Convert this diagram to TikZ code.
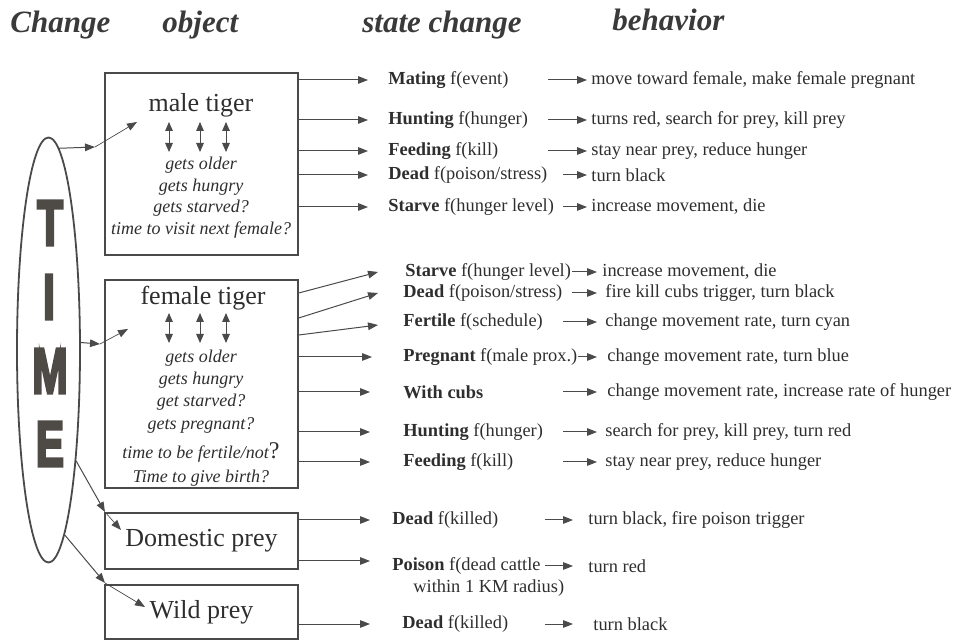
\documentclass[tikz,border=0pt]{standalone}
\usepackage{fontspec}
\IfFontExistsTF{LiberationSerif-Regular.ttf}{%
  \setmainfont{LiberationSerif-Regular.ttf}[
    BoldFont=LiberationSerif-Bold.ttf,
    ItalicFont=LiberationSerif-Italic.ttf,
    BoldItalicFont=LiberationSerif-BoldItalic.ttf]}{%
  \setmainfont{Liberation Serif}}
\newfontfamily\timefont{Liberation Sans}[FakeBold=5]
\usepackage{tikz}
\usetikzlibrary{shapes.geometric, arrows.meta, positioning}
\definecolor{inkgray}{HTML}{2E2E2E}
\definecolor{headgray}{HTML}{3A3A3A}
\definecolor{linegray}{HTML}{4A4A4A}
\definecolor{lettergray}{HTML}{4E4A45}

\tikzset{
  objbox/.style={draw=linegray, line width=0.7pt, inner sep=0pt},
  arr/.style={draw=linegray, line width=0.5pt, -{Triangle[length=5pt, width=3.8pt]}},
  thinarr/.style={arr, line width=0.35pt},
  dblarr/.style={draw=linegray, line width=0.5pt, {Triangle[length=4.5pt, width=3.8pt]}-{Triangle[length=4.5pt, width=3.8pt]}},
  head/.style={anchor=base west, inner sep=0pt, text=headgray, font=\rmfamily\fontsize{15.5}{18}\selectfont\bfseries\itshape},
  lbl/.style={anchor=west, inner sep=0pt, text=inkgray, font=\rmfamily\fontsize{9.2}{11}\selectfont},
  cond/.style={inner sep=0pt, text=inkgray, font=\rmfamily\fontsize{9}{11}\selectfont\itshape},
  objname/.style={inner sep=0pt, text=inkgray, font=\rmfamily\fontsize{13}{15}\selectfont},
  bigletter/.style={inner sep=0pt, text=lettergray, font=\timefont\bfseries\fontsize{32}{32}\selectfont}
}

\begin{document}
\begin{tikzpicture}[x=0.5pt, y=-0.5pt]
        \useasboundingbox (0,0) rectangle (958,640);

        % Column headings
        \node[head] (hchange) at (10,33) {Change};
        \node[head] (hobject) at (162,33) {object};
        \node[head] (hstate) at (362,33) {state change};
        \node[head] (hbehav) at (612,31) {behavior};

        % TIME ellipse
        \node[draw=linegray, line width=0.9pt, ellipse, inner sep=0pt,
              minimum width=31.5pt, minimum height=212.5pt] (time) at (48.5,350) {};
        \node[bigletter] (letT) at (50,223) {\scalebox{0.66}[1]{T}};
        \node[bigletter] (letI) at (49,297) {\scalebox{0.66}[1]{I}};
        \node[bigletter] (letM) at (50,371) {\scalebox{0.66}[1]{M}};
        \node[bigletter] (letE) at (50,444) {\scalebox{0.66}[1]{E}};

        % Object boxes
        \node[objbox, minimum width=96.5pt, minimum height=91pt] (male) at (201.5,164) {};
        \node[objbox, minimum width=96.5pt, minimum height=104pt] (fem) at (201.5,384) {};
        \node[objbox, objname, minimum width=96.5pt, minimum height=28pt] (dom) at (201.5,541) {Domestic prey};
        \node[objbox, objname, minimum width=96.5pt, minimum height=27pt] (wild) at (201.5,612) {Wild prey};

        % male tiger contents
        \node[objname] (mname) at (201,105) {male tiger};
        \draw[dblarr] (169,122) -- (169,152);
        \draw[dblarr] (200,122) -- (200,152);
        \draw[dblarr] (226,122) -- (226,152);
        \node[cond] (mc1) at (201,165) {gets older};
        \node[cond] (mc2) at (201,187) {gets hungry};
        \node[cond] (mc3) at (201,208) {gets starved?};
        \node[cond] (mc4) at (201,230) {time to visit next female?};

        % female tiger contents
        \node[objname] (fname) at (203,298) {female tiger};
        \draw[dblarr] (169,313) -- (169,343);
        \draw[dblarr] (200,313) -- (200,343);
        \draw[dblarr] (226,313) -- (226,343);
        \node[cond] (fc1) at (201,358) {gets older};
        \node[cond] (fc2) at (201,380) {gets hungry};
        \node[cond] (fc3) at (201,402) {get starved?};
        \node[cond] (fc4) at (201,425) {gets pregnant?};
        \node[cond] (fc5) at (201,452) {time to be fertile/not{\upshape\fontsize{12}{12}\selectfont ?}};
        \node[cond] (fc6) at (201,478) {Time to give birth?};

        % Arrows from TIME to the objects
        \coordinate (mtip) at (95,147);
        \coordinate (min) at (137,122);
        \draw[arr] (time.87) -- (mtip);
        \draw[thinarr] (mtip) -- (min);
        \coordinate (ftip) at (100,344);
        \coordinate (fin) at (128,329);
        \draw[arr] (time.13) -- (ftip);
        \draw[thinarr] (ftip) -- (fin);
        \coordinate (dtip) at (105,512);
        \coordinate (din) at (121,530);
        \draw[arr] (time.-76) -- (dtip);
        \draw[thinarr] (dtip) -- (din);
        \coordinate (wtip) at (105,583);
        \coordinate (win) at (145,607);
        \draw[arr] (time.-85) -- (wtip);
        \draw[thinarr] (wtip) -- (win);

        % male tiger states
        \node[lbl] (mmat) at (388,80) {\textbf{Mating} f(event)};
        \node[lbl] (mhun) at (388,120) {\textbf{Hunting} f(hunger)};
        \node[lbl] (mfee) at (388,151) {\textbf{Feeding} f(kill)};
        \node[lbl] (mdea) at (388,175) {\textbf{Dead} f(poison/stress)};
        \node[lbl] (msta) at (388,207) {\textbf{Starve} f(hunger level)};
        \draw[arr] (male.east |- mmat) -- ([xshift=-10pt]mmat.west);
        \draw[arr] (male.east |- mhun) -- ([xshift=-10pt]mhun.west);
        \draw[arr] (male.east |- mfee) -- ([xshift=-10pt]mfee.west);
        \draw[arr] (male.east |- mdea) -- ([xshift=-10pt]mdea.west);
        \draw[arr] (male.east |- msta) -- ([xshift=-10pt]msta.west);

        % male tiger behaviors
        \node[lbl] (mmatb) at (591,80) {move toward female, make female pregnant};
        \node[lbl] (mhunb) at (591,120) {turns red, search for prey, kill prey};
        \node[lbl] (mfeeb) at (591,151) {stay near prey, reduce hunger};
        \node[lbl] (mdeab) at (591,175) {turn black};
        \node[lbl] (mstab) at (591,207) {increase movement, die};
        \draw[arr] ([xshift=-21.5pt]mmatb.west) -- ([xshift=-2pt]mmatb.west);
        \draw[arr] ([xshift=-21.5pt]mhunb.west) -- ([xshift=-2pt]mhunb.west);
        \draw[arr] ([xshift=-21.5pt]mfeeb.west) -- ([xshift=-2pt]mfeeb.west);
        \draw[arr] ([xshift=-14pt]mdeab.west) -- ([xshift=-2pt]mdeab.west);
        \draw[arr] ([xshift=-14pt]mstab.west) -- ([xshift=-2pt]mstab.west);

        % female tiger states
        \node[lbl] (fsta) at (405,272) {\textbf{Starve} f(hunger level)};
        \node[lbl] (fdea) at (403,293) {\textbf{Dead} f(poison/stress)};
        \node[lbl] (ffer) at (403,322) {\textbf{Fertile} f(schedule)};
        \node[lbl] (fpre) at (403,357) {\textbf{Pregnant} f(male prox.)};
        \node[lbl] (fcub) at (403,392) {\textbf{With cubs}};
        \node[lbl] (fhun) at (403,432) {\textbf{Hunting} f(hunger)};
        \node[lbl] (ffee) at (403,462) {\textbf{Feeding} f(kill)};
        \draw[arr] ([yshift=45.5pt]fem.east) -- ([xshift=-13.5pt]fsta.west);
        \draw[arr] ([yshift=33pt]fem.east) -- ([xshift=-12.5pt]fdea.west);
        \draw[arr] ([yshift=24.5pt]fem.east) -- ([xshift=-12.5pt,yshift=-1.5pt]ffer.west);
        \draw[arr] (fem.east |- fpre) -- ([xshift=-15.5pt]fpre.west);
        \draw[arr] (fem.east |- fcub) -- ([xshift=-16.5pt]fcub.west);
        \draw[arr] (fem.east |- fhun) -- ([xshift=-16.5pt]fhun.west);
        \draw[arr] (fem.east |- ffee) -- ([xshift=-16.5pt]ffee.west);

        % female tiger behaviors
        \node[lbl] (fstab) at (602,272) {increase movement, die};
        \node[lbl] (fdeab) at (605,293) {fire kill cubs trigger, turn black};
        \node[lbl] (fferb) at (605,322) {change movement rate, turn cyan};
        \node[lbl] (fpreb) at (607,357) {change movement rate, turn blue};
        \node[lbl] (fcubb) at (607,392) {change movement rate, increase rate of hunger};
        \node[lbl] (fhunb) at (605,432) {search for prey, kill prey, turn red};
        \node[lbl] (ffeeb) at (605,462) {stay near prey, reduce hunger};
        \draw[arr] ([xshift=-15pt]fstab.west) -- ([xshift=-2.5pt]fstab.west);
        \draw[arr] ([xshift=-16.5pt]fdeab.west) -- ([xshift=-4pt]fdeab.west);
        \draw[arr] ([xshift=-21pt]fferb.west) -- ([xshift=-4pt]fferb.west);
        \draw[arr] ([xshift=-14.5pt]fpreb.west) -- ([xshift=-5pt]fpreb.west);
        \draw[arr] ([xshift=-22pt]fcubb.west) -- ([xshift=-5pt]fcubb.west);
        \draw[arr] ([xshift=-21pt]fhunb.west) -- ([xshift=-4pt]fhunb.west);
        \draw[arr] ([xshift=-21pt]ffeeb.west) -- ([xshift=-4pt]ffeeb.west);

        % prey states and behaviors
        \node[lbl] (ddea) at (392,520) {\textbf{Dead} f(killed)};
        \node[lbl] (dpoi) at (392,566) {\textbf{Poison} f(dead cattle};
        \node[lbl] (dpoi2) at (413,588) {within 1 KM radius)};
        \node[lbl] (wdea) at (402,624) {\textbf{Dead} f(killed)};
        \draw[arr] (dom.east |- ddea) -- ([xshift=-11pt]ddea.west);
        \draw[arr] ([yshift=-10pt]dom.east) -- ([xshift=-11pt,yshift=2.5pt]dpoi.west);
        \draw[arr] (wild.east |- wdea) -- ([xshift=-16pt]wdea.west);
        \node[lbl] (ddeab) at (588,520) {turn black, fire poison trigger};
        \node[lbl] (dpoib) at (588,566) {turn red};
        \node[lbl] (wdeab) at (593,624) {turn black};
        \draw[arr] ([xshift=-21.5pt]ddeab.west) -- ([xshift=-7.5pt]ddeab.west);
        \draw[arr] ([xshift=-21.5pt]dpoib.west) -- ([xshift=-7.5pt]dpoib.west);
        \draw[arr] ([xshift=-24pt]wdeab.west) -- ([xshift=-10pt]wdeab.west);
    \end{tikzpicture}
\end{document}
